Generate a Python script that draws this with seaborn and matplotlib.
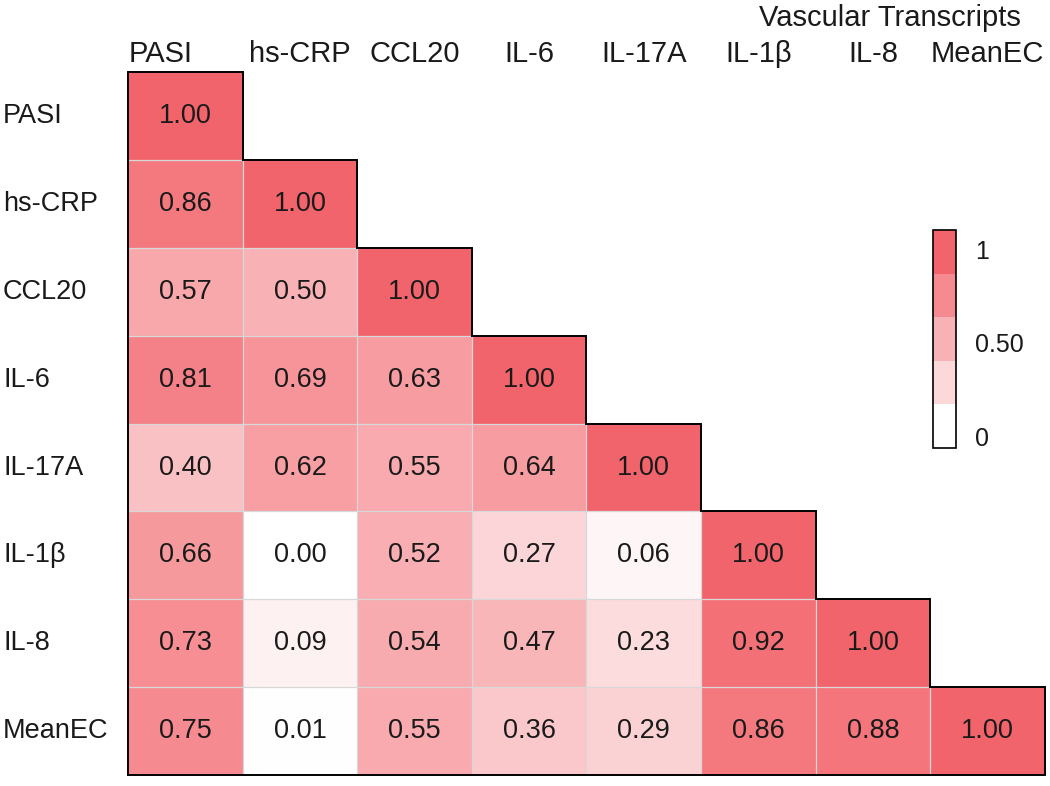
import numpy as np
import pandas as pd
import matplotlib
matplotlib.use('Agg')
import matplotlib.pyplot as plt
import matplotlib.transforms as mtransforms
from matplotlib.colors import LinearSegmentedColormap, ListedColormap, BoundaryNorm
import seaborn as sns

# -----------------------------
# DATA
# -----------------------------

labels = ['PASI', 'hs-CRP', 'CCL20', 'IL-6', 'IL-17A', 'IL-1β', 'IL-8', 'MeanEC']

row_pasi = [1.00]
row_hscrp = [0.86, 1.00]
row_ccl20 = [0.57, 0.50, 1.00]
row_il6 = [0.81, 0.69, 0.63, 1.00]
row_il17a = [0.40, 0.62, 0.55, 0.64, 1.00]
row_il1b = [0.66, 0.00, 0.52, 0.27, 0.06, 1.00]
row_il8 = [0.73, 0.09, 0.54, 0.47, 0.23, 0.92, 1.00]
row_meanec = [0.75, 0.01, 0.55, 0.36, 0.29, 0.86, 0.88, 1.00]

rows = [row_pasi, row_hscrp, row_ccl20, row_il6,
        row_il17a, row_il1b, row_il8, row_meanec]

group_title = 'Vascular Transcripts'
cbar_ticks = [0, 0.5, 1]
cbar_ticklabels = ['0', '0.50', '1']

# -----------------------------
# BUILD MATRIX
# -----------------------------

n = len(labels)
mat = np.full((n, n), np.nan)
for i, r in enumerate(rows):
    for j, v in enumerate(r):
        mat[i, j] = v
        mat[j, i] = v

df = pd.DataFrame(mat, index=labels, columns=labels)
mask = np.triu(np.ones((n, n), dtype=bool), k=1)

# -----------------------------
# STYLE
# -----------------------------

sns.set_theme(style='white')
plt.rcParams['font.family'] = ['Liberation Sans', 'DejaVu Sans']

red = '#F2646B'
cmap = LinearSegmentedColormap.from_list('wr', ['#FFFFFF', red])

fig = plt.figure(figsize=(10.5, 7.86), dpi=100)
ax = fig.add_axes([0.122, 0.014, 0.873, 0.894])

sns.heatmap(
    df,
    mask=mask,
    cmap=cmap,
    vmin=0,
    vmax=1,
    annot=True,
    fmt='.2f',
    annot_kws={'size': 19.5, 'color': '#1a1a1a'},
    linewidths=0,
    cbar=False,
    ax=ax
)

# thin grey grid only inside the lower triangle
for k in range(1, n):
    ax.vlines(k, k, n, color='#d8d8d8', lw=0.9)
    ax.hlines(k, 0, k, color='#d8d8d8', lw=0.9)

# top labels
ax.xaxis.tick_top()
ax.tick_params(axis='both', length=0)
ax.set_xticklabels(labels, rotation=0, fontsize=21, color='#1a1a1a')
ax.tick_params(axis='x', pad=3)

first = ax.get_xticklabels()[0]
first.set_transform(first.get_transform() +
                    mtransforms.ScaledTranslation(-0.25, 0, fig.dpi_scale_trans))

# left labels, left aligned at the figure edge
ax.set_yticklabels(labels, rotation=0, fontsize=19.5, color='#1a1a1a')
for t in ax.get_yticklabels():
    t.set_ha('left')
ax.tick_params(axis='y', pad=90)
ax.set_xlabel('')
ax.set_ylabel('')

# staircase outline of the lower triangle
xs = [0, 0]
ys = [n, 0]
for k in range(n):
    xs += [k + 1, k + 1]
    ys += [k, k + 1]
xs += [0]
ys += [n]
ax.plot(xs, ys, color='black', lw=1.4, clip_on=False, solid_joinstyle='miter')

# group title
ax.text(6.65, -0.46, group_title, ha='center', va='bottom',
        fontsize=21, color='#1a1a1a', clip_on=False)

# stepped colourbar
cax = fig.add_axes([0.889, 0.430, 0.021, 0.277])
steps = ListedColormap(cmap(np.linspace(0, 1, 5)))
bounds = np.linspace(-0.06, 1.1, 6)
sm = plt.cm.ScalarMappable(cmap=steps, norm=BoundaryNorm(bounds, steps.N))
cb = fig.colorbar(sm, cax=cax, ticks=cbar_ticks)
cb.set_ticklabels(cbar_ticklabels)
cb.minorticks_off()
cb.outline.set_edgecolor('black')
cb.outline.set_linewidth(1.2)
cax.tick_params(which='both', length=0, labelsize=18, pad=14, colors='#1a1a1a')

fig.savefig('out.png', dpi=100)
